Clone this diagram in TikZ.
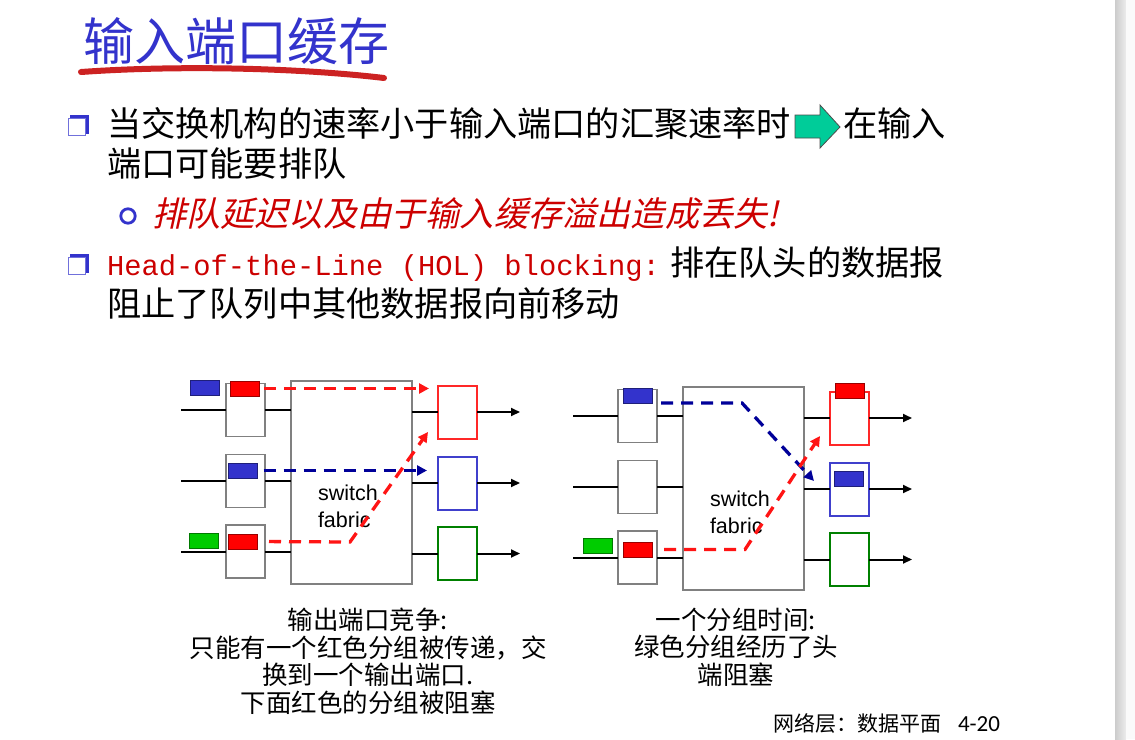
\documentclass[tikz,border=0pt]{standalone}
\usepackage{fontspec}
\setsansfont{Liberation Sans}
\setmonofont{Liberation Mono}
\newfontfamily\cjk{Noto Sans CJK SC}
\newfontfamily\cjkslant{Noto Sans CJK SC}[FakeSlant=0.22]
\newfontfamily\pagefont{Carlito}
\usetikzlibrary{arrows.meta, positioning}

\definecolor{titleblue}{RGB}{51,51,204}
\definecolor{ulred}{RGB}{204,34,34}
\definecolor{hotred}{RGB}{204,0,0}
\definecolor{bulblue}{RGB}{51,51,204}
\definecolor{pktred}{RGB}{255,0,0}
\definecolor{pktblue}{RGB}{51,51,204}
\definecolor{pktgreen}{RGB}{0,204,0}
\definecolor{flowred}{RGB}{255,20,20}
\definecolor{flowblue}{RGB}{0,0,153}
\definecolor{boxgray}{RGB}{128,128,128}
\definecolor{outred}{RGB}{255,40,40}
\definecolor{outblue}{RGB}{64,64,204}
\definecolor{outgreen}{RGB}{0,128,0}
\definecolor{arrowgreen}{RGB}{0,204,153}

\begin{document}
\begin{tikzpicture}[x=1pt, y=-1pt,
  every node/.style={inner sep=0pt, outer sep=0pt},
  body/.style={anchor=base west, font=\cjk\fontsize{34.2}{40}\selectfont},
  caption/.style={anchor=north, align=center, font=\cjk\fontsize{25.5}{27.5}\selectfont},
  inbox/.style={draw=boxgray, line width=1.3pt, fill=white, minimum width=39pt, minimum height=53pt},
  fabric/.style={draw=boxgray, line width=1.3pt, minimum width=121pt, minimum height=203pt},
  outbox/.style={line width=2pt, fill=white, minimum width=39pt, minimum height=53pt},
  pkt/.style={draw=#1!60!black, fill=#1, line width=0.8pt, minimum width=29pt, minimum height=15pt},
  link/.style={line width=2pt},
  outlink/.style={line width=2pt, -{Triangle[length=9pt, width=8pt]}},
  flow/.style={line width=3.3pt, dash pattern=on 12pt off 8pt, -{Triangle[length=10pt, width=10pt]}},
]
\useasboundingbox (0,0) rectangle (1135,739);
\fill[white] (0,0) rectangle (1135,739);
\shade[left color=gray!40, right color=gray!15] (1115,0) rectangle (1126,739);
\fill[black!2] (1126,0) rectangle (1135,739);

% ---- Title ----
\node[anchor=base west, font=\cjk\fontsize{51}{60}\selectfont, text=titleblue] (title) at (83,60) {输入端口缓存};
\draw[ulred, line width=6pt, line cap=round] (81,72) .. controls (180,65) and (300,68) .. (384,78);

% ---- Bullets ----
\fill[bulblue] (70,115) rectangle (89,134);
\draw[bulblue!70, fill=white, line width=1pt] (68.5,118.5) rectangle (85,135.5);
\fill[bulblue] (70,254) rectangle (89,273);
\draw[bulblue!70, fill=white, line width=1pt] (68.5,257.5) rectangle (85,274.5);
\draw[bulblue, line width=2.8pt] (128,216) circle (7.2);

% ---- Body text ----
\node[body] (l1) at (107,136) {当交换机构的速率小于输入端口的汇聚速率时};
\draw[black!70, fill=arrowgreen, line width=0.8pt]
  (795,115) -- (820,115) -- (820,105) -- (840,127) -- (820,148) -- (820,138) -- (795,138) -- cycle;
\node[body] (l1b) at (843,136) {在输入};
\node[body] (l2) at (107,176) {端口可能要排队};
\node[body, font=\cjkslant\fontsize{34.2}{40}\selectfont, text=hotred] (l3) at (152,226) {排队延迟以及由于输入缓存溢出造成丢失!};
\node[body] (l4) at (107,275) {{\ttfamily\fontsize{28.8}{34}\selectfont\color{hotred}Head-of-the-Line (HOL) blocking:} 排在队头的数据报};
\node[body] (l5) at (107,316) {阻止了队列中其他数据报向前移动};

% ---- Switches: boxes and links ----
\foreach \d/\dx/\dy in {a/0/0, b/392/6}{
  \begin{scope}[shift={(\dx,\dy)}]
    \node[fabric] (\d fab) at (351.5,482.5) {};
    \node[anchor=base west, align=left, font=\sffamily\fontsize{21.5}{27}\selectfont] (\d fabtxt) at (318,527) {switch\\fabric};
    \foreach \r/\iy/\oy/\oc in {1/410/412/outred, 2/481/483/outblue, 3/551.5/553.5/outgreen}{
      \node[inbox] (\d in\r) at (245.5,\iy) {};
      \node[outbox, draw=\oc] (\d out\r) at (457.5,\oy) {};
      \coordinate (\d src\r) at (181,\iy);
      \coordinate (\d snk\r) at (520,\oy);
      \draw[link] (\d src\r) -- (\d in\r.west);
      \draw[link] (\d in\r.east) -- (\d fab.west |- \d in\r.east);
      \draw[link] (\d fab.east |- \d out\r.west) -- (\d out\r.west);
      \draw[outlink] (\d out\r.east) -- (\d snk\r);
    }
  \end{scope}
}

% ---- Packets ----
\node[pkt=pktblue]  (ablue0)  at (204.5,388) {};
\node[pkt=pktred]   (ared1)   at (244.5,388.5) {};
\node[pkt=pktblue]  (ablue2)  at (243,470.5) {};
\node[pkt=pktgreen] (agreen3) at (203.5,540.5) {};
\node[pkt=pktred]   (ared3)   at (242.5,541.5) {};

\node[pkt=pktblue]  (bblue1)  at (637.5,395.5) {};
\node[pkt=pktgreen] (bgreen3) at (598,545.5) {};
\node[pkt=pktred]   (bred3)   at (637.5,549.5) {};
\node[pkt=pktred]   (bred0)   at (849.5,390.5) {};
\node[pkt=pktblue]  (bblue2)  at (848.5,479) {};

% ---- Packet paths ----
\coordinate (abend) at (350,542);
\coordinate (aredtip) at (428,432);
\draw[flow, flowred, shorten <=5pt, shorten >=9pt] (ared1.east) -- (aout1.west |- ared1.east);
\draw[flow, flowblue, shorten <=6pt, shorten >=11pt] (ablue2.east) -- (aout2.west |- ablue2.east);
\draw[flow, flowred, shorten <=12pt] (ared3.east) -- (abend) -- (aredtip);

\coordinate (bbluebend) at (742,403);
\coordinate (bbluetip) at (814,481);
\coordinate (bredbend) at (745,549.5);
\coordinate (bredtip) at (820,436);
\draw[flow, flowblue, shorten <=9pt] (bblue1.south east) -- (bbluebend) -- (bbluetip);
\draw[flow, flowred, shorten <=12pt] (bred3.east) -- (bredbend) -- (bredtip);

% ---- Captions ----
\node[caption] (capa) at (368,608) {输出端口竞争:\\只能有一个红色分组被传递，交\\换到一个输出端口.\\下面红色的分组被阻塞};
\node[caption] (capb) at (736,608) {一个分组时间:\\绿色分组经历了头\\端阻塞};

% ---- Footer ----
\node[anchor=base west, font=\cjk\fontsize{21}{25}\selectfont] (foot) at (773,731) {网络层：数据平面};
\node[anchor=base west, font=\pagefont\fontsize{23}{27}\selectfont] (pageno) at (958,731) {4-20};
\end{tikzpicture}
\end{document}
